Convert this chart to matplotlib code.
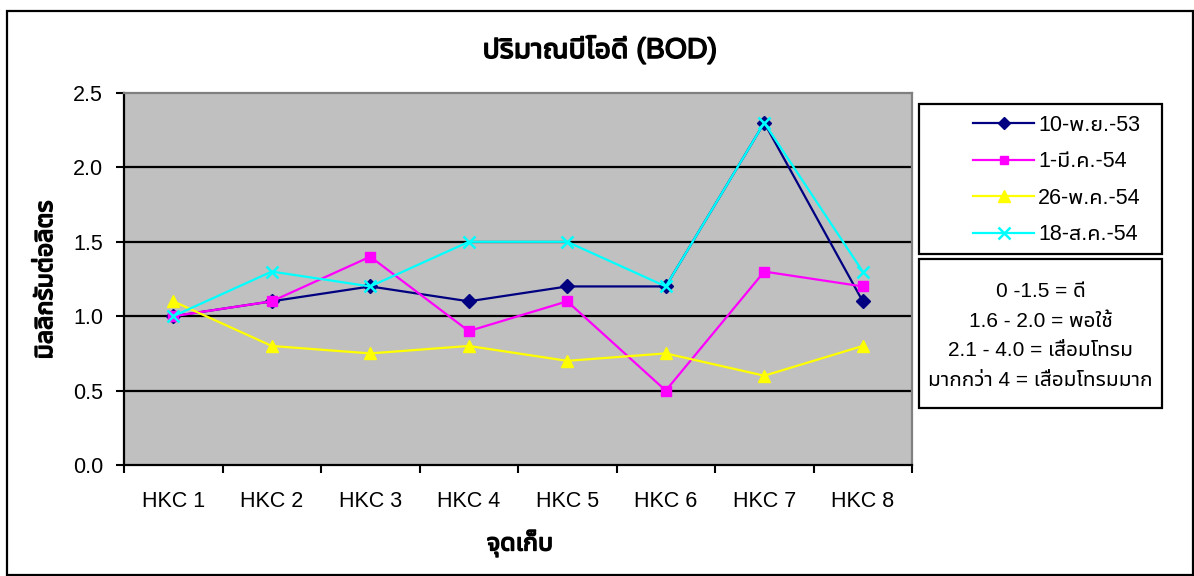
import matplotlib
matplotlib.use("Agg")
import matplotlib.pyplot as plt
import matplotlib.patheffects as pe
from matplotlib import font_manager
from matplotlib.ft2font import FT2Font
from matplotlib.patches import Rectangle

# ---------------- data ----------------
categories = ["HKC 1", "HKC 2", "HKC 3", "HKC 4", "HKC 5", "HKC 6", "HKC 7", "HKC 8"]
series_labels = ["10-พ.ย.-53", "1-มี.ค.-54", "26-พ.ค.-54", "18-ส.ค.-54"]
bod_nov53 = [1.0, 1.1, 1.2, 1.1, 1.2, 1.2, 2.3, 1.1]
bod_mar54 = [1.0, 1.1, 1.4, 0.9, 1.1, 0.5, 1.3, 1.2]
bod_may54 = [1.1, 0.8, 0.75, 0.8, 0.7, 0.75, 0.6, 0.8]
bod_aug54 = [1.0, 1.3, 1.2, 1.5, 1.5, 1.2, 2.3, 1.3]
y_ticks = [0.0, 0.5, 1.0, 1.5, 2.0, 2.5]
title = "ปริมาณบีโอดี (BOD)"
x_title = "จุดเก็บ"
y_title = "มิลลิกรัมต่อลิตร"
note_lines = ["0 -1.5 = ดี", "1.6 - 2.0 = พอใช้", "2.1 - 4.0 = เสื่อมโทรม", "มากกว่า 4 = เสื่อมโทรมมาก"]


# ---------------- fonts ----------------
def find_thai_family():
    found = []
    for f in font_manager.fontManager.ttflist:
        try:
            cmap = FT2Font(f.fname).get_charmap()
        except Exception:
            continue
        if 0x0E01 in cmap and 0x0E35 in cmap and 0x0E4C in cmap:
            found.append(f.name)
    if not found:
        return None

    def score(n):
        s = 0
        if "Thai" in n:
            s -= 10
        if "Sans" in n:
            s -= 5
        if "Looped" in n:
            s += 3
        if "Serif" in n:
            s += 4
        return s

    return sorted(set(found), key=score)[0]


thai = find_thai_family()
families = ["Liberation Sans"] + ([thai] if thai else []) + ["DejaVu Sans"]
plt.rcParams["font.family"] = families

W, H = 1194, 576
fig = plt.figure(figsize=(W / 100, H / 100), dpi=100)


def fx(px):
    return px / W


def fy(py):
    return 1 - py / H


bold_fx = [pe.withStroke(linewidth=1.1, foreground="black")]

# outer chart border
fig.patches.append(Rectangle((fx(7), fy(575)), fx(1193) - fx(7), fy(11) - fy(575),
                             transform=fig.transFigure, fill=False, edgecolor="black",
                             linewidth=1.6, zorder=0))

L, R, T, B = 124, 912, 93, 465
ax = fig.add_axes([fx(L), fy(B), fx(R) - fx(L), fy(T) - fy(B)])
ax.set_facecolor("#C0C0C0")

x = list(range(1, len(categories) + 1))
styles = [
    (bod_nov53, "#000080", "D", 7, 1.0),
    (bod_mar54, "#FF00FF", "s", 7, 1.0),
    (bod_may54, "#FFFF00", "^", 9, 1.0),
    (bod_aug54, "#00FFFF", "x", 9, 1.8),
]
handles = []
for (vals, col, mk, ms, mew), lab in zip(styles, series_labels):
    ln, = ax.plot(x, vals, color=col, linewidth=1.6, marker=mk, markersize=ms,
                  markerfacecolor=col, markeredgecolor=col, markeredgewidth=mew,
                  label=lab, zorder=3, clip_on=False)
    handles.append(ln)

ax.set_xlim(0.5, len(categories) + 0.5)
ax.set_ylim(y_ticks[0], y_ticks[-1])
ax.set_yticks(y_ticks)
ax.set_yticklabels([f"{v:.1f}" for v in y_ticks])
for v in y_ticks[1:-1]:
    ax.axhline(v, color="black", linewidth=1.6, zorder=1)

ax.set_xticks([i + 0.5 for i in range(0, len(categories) + 1)])
ax.set_xticklabels([])
ax.set_xticks(x, minor=True)
ax.set_xticklabels(categories, minor=True)
ax.tick_params(axis="x", which="major", direction="out", length=6, width=1.5, color="black")
ax.tick_params(axis="x", which="minor", length=0, pad=19, labelsize=15.5)
ax.tick_params(axis="y", direction="out", length=6, width=1.5, color="black", labelsize=15.5, pad=9)

for s in ["left", "bottom"]:
    ax.spines[s].set_color("black")
    ax.spines[s].set_linewidth(1.6)
for s in ["top", "right"]:
    ax.spines[s].set_color("#808080")
    ax.spines[s].set_linewidth(1.6)

fig.text(fx(600), fy(50), title, ha="center", va="center", fontsize=20.5,
         path_effects=bold_fx)
fig.text(fx(520), fy(543), x_title, ha="center", va="center", fontsize=18,
         path_effects=bold_fx)
fig.text(fx(45), fy(280), y_title, ha="center", va="center", fontsize=18,
         rotation=90, path_effects=bold_fx)

# legend box
LL, LR, LT, LB = 919, 1162, 104, 254
fig.patches.append(Rectangle((fx(LL), fy(LB)), fx(LR) - fx(LL), fy(LT) - fy(LB),
                             transform=fig.transFigure, fill=True, facecolor="white",
                             edgecolor="black", linewidth=1.6))
leg = fig.legend(handles=handles, labels=series_labels, loc="center",
                 bbox_to_anchor=(fx(1057), fy(180)),
                 bbox_transform=fig.transFigure, frameon=False, fontsize=15.5,
                 handlelength=2.8, handletextpad=0.2, labelspacing=0.72,
                 borderaxespad=0, borderpad=0.0, markerscale=0.9)

# note box
NL, NR, NT, NB = 919, 1162, 259, 408
fig.patches.append(Rectangle((fx(NL), fy(NB)), fx(NR) - fx(NL), fy(NT) - fy(NB),
                             transform=fig.transFigure, fill=True, facecolor="white",
                             edgecolor="black", linewidth=1.6))
fig.text(fx((NL + NR) / 2), fy(336), "\n".join(note_lines), ha="center",
         va="center", fontsize=15, linespacing=1.7)

fig.savefig("out.png", dpi=100)
